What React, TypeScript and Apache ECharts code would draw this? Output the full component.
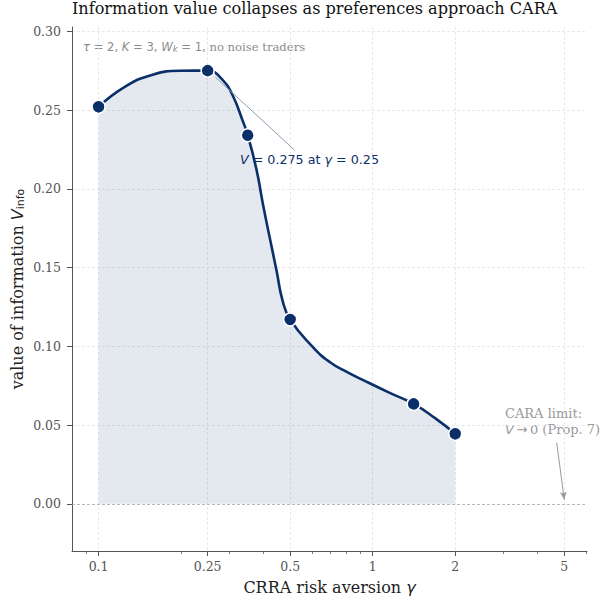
import React, { useEffect, useRef } from "react";
import * as echarts from "echarts";

// curve (gamma, V)
const gammaCurve = [0.1, 0.1255, 0.1575, 0.1977, 0.25, 0.284, 0.308, 0.335, 0.35, 0.377, 0.397, 0.421, 0.446, 0.469, 0.5, 0.604, 0.697, 0.804, 0.951, 1.154, 1.41, 1.684, 2.0];
const vCurve = [0.252, 0.265, 0.2724, 0.2749, 0.275, 0.269, 0.2595, 0.2435, 0.234, 0.212, 0.191, 0.169, 0.148, 0.129, 0.117, 0.0996, 0.09, 0.0837, 0.0774, 0.0704, 0.0634, 0.0545, 0.0444];
// highlighted points
const gammaMarkers = [0.1, 0.25, 0.35, 0.5, 1.41, 2.0];
const vMarkers = [0.252, 0.275, 0.234, 0.117, 0.0634, 0.0444];
// ticks
const xMajorTicks = [0.1, 0.25, 0.5, 1, 2, 5];
const xMinorTicks = [0.09, 0.2, 0.3, 0.4, 0.6, 0.7, 0.8, 0.9, 3, 4, 6];
const yTicks = [0, 0.05, 0.1, 0.15, 0.2, 0.25, 0.3];
// annotation anchors (data coords)
const peakArrow = [[0.267, 0.2708], [0.519, 0.2245]];
const caraArrow = [[4.69, 0.0387], [5, 0.0025]];

const NAVY = "#0b3069";
const SERIF = "DejaVu Serif";
const SANS = "DejaVu Sans";

export default function App() {
  const ref = useRef<HTMLDivElement>(null);
  useEffect(() => {
    const chart = echarts.init(ref.current!, null, { renderer: "svg" });
    const fmt = (v: number) => String(parseFloat(Number(v).toPrecision(3)));
    const option: any = {
      animation: false,
      backgroundColor: "#ffffff",
      title: {
        text: "Information value collapses as preferences approach CARA",
        left: 72,
        top: 0,
        padding: 0,
        textStyle: { fontFamily: SERIF, fontSize: 16.1, fontWeight: "normal", color: "#111" },
      },
      grid: { left: 72, right: 16, top: 27, bottom: 51, containLabel: false, outerBoundsMode: "none" },
      xAxis: [
        {
          type: "log",
          logBase: 10,
          min: 0.08,
          max: 6.05,
          name: "CRRA risk aversion {i|γ}",
          nameLocation: "middle",
          nameGap: 28,
          nameMoveOverlap: false,
          nameTextStyle: {
            fontFamily: SERIF,
            fontSize: 16,
            color: "#222",
            rich: { i: { fontFamily: SANS, fontStyle: "italic", fontSize: 16, color: "#222" } },
          },
          axisLine: { show: true, onZero: false, lineStyle: { color: "#555", width: 1 } },
          axisTick: { show: true, customValues: xMajorTicks, length: 5, lineStyle: { color: "#555" } },
          axisLabel: {
            customValues: xMajorTicks,
            formatter: fmt,
            fontFamily: SERIF,
            fontSize: 12.5,
            color: "#555",
            margin: 9,
          },
          splitLine: { show: true, lineStyle: { color: "#e3e3e3", type: [3, 2], width: 0.8 } },
          minorTick: { show: false },
        },
        {
          type: "log",
          logBase: 10,
          min: 0.08,
          max: 6.05,
          gridIndex: 0,
          position: "bottom",
          axisLine: { show: false, onZero: false },
          axisTick: { show: true, customValues: xMinorTicks, length: 3, lineStyle: { color: "#555", width: 0.8 } },
          axisLabel: { show: false },
          splitLine: { show: false },
        },
      ],
      yAxis: {
        type: "value",
        min: -0.03,
        max: 0.3027,
        name: "value of information {i|V}{sub|info}",
        nameLocation: "middle",
        nameGap: 46,
        nameMoveOverlap: false,
        nameTextStyle: {
          fontFamily: SERIF,
          fontSize: 16,
          color: "#222",
          rich: {
            i: { fontFamily: SANS, fontStyle: "italic", fontSize: 16, color: "#222" },
            sub: { fontFamily: SANS, fontSize: 11, color: "#222", verticalAlign: "bottom", padding: [6, 0, 0, 0] },
          },
        },
        axisLine: { show: true, lineStyle: { color: "#555", width: 1 } },
        axisTick: { show: true, customValues: yTicks, length: 5, lineStyle: { color: "#555" } },
        axisLabel: {
          customValues: yTicks,
          formatter: (v: number) => Number(v).toFixed(2),
          fontFamily: SERIF,
          fontSize: 12.5,
          color: "#555",
          margin: 11,
        },
        splitLine: { show: true, lineStyle: { color: "#e3e3e3", type: [3, 2], width: 0.8 } },
      },
      series: [
        {
          type: "line",
          name: "curve",
          xAxisIndex: 0,
          data: gammaCurve.map((g, i) => [g, vCurve[i]]),
          smooth: 0.5,
          showSymbol: false,
          symbol: "none",
          lineStyle: { color: NAVY, width: 2.6 },
          areaStyle: { color: NAVY, opacity: 0.11 },
          z: 3,
          markLine: {
            silent: true,
            symbol: ["none", "none"],
            label: { show: false },
            data: [
              { yAxis: 0, lineStyle: { color: "#aaa", type: [3, 2], width: 0.8 } },
              [
                { coord: peakArrow[0], symbol: "none", lineStyle: { color: "#8d9db5", width: 1, type: "solid" } },
                { coord: peakArrow[1], symbol: "none" },
              ],
              [
                { coord: caraArrow[0], symbol: "none", lineStyle: { color: "#999", width: 1, type: "solid" } },
                { coord: caraArrow[1], symbol: "arrow", symbolSize: [5, 8] },
              ],
            ],
          },
        },
        {
          type: "scatter",
          name: "points",
          xAxisIndex: 0,
          data: gammaMarkers.map((g, i) => [g, vMarkers[i]]),
          symbolSize: 13,
          itemStyle: { color: NAVY, opacity: 1, borderColor: "#fff", borderWidth: 1.5 },
          z: 4,
        },
      ],
      graphic: [
        {
          type: "text",
          left: 83,
          top: 41,
          style: {
            text: "{i|τ} {s|= 2,} {i|K} {s|= 3,} {i|W}{sub|k} {s|= 1,} no noise traders",
            fontFamily: SERIF,
            fontSize: 11.6,
            fill: "#8c8c8c",
            rich: {
              i: { fontFamily: SANS, fontStyle: "italic", fontSize: 11.6, fill: "#8c8c8c" },
              s: { fontFamily: SANS, fontSize: 11.6, fill: "#8c8c8c" },
              sub: { fontFamily: SANS, fontStyle: "italic", fontSize: 8.5, fill: "#8c8c8c", verticalAlign: "bottom", padding: [4, 0, 0, 0] },
            },
          },
        },
        {
          type: "text",
          left: 240,
          top: 153,
          style: {
            text: "{i|V} = 0.275 at {i|γ} = 0.25",
            fontFamily: SANS,
            fontSize: 12.7,
            fill: NAVY,
            rich: { i: { fontFamily: SANS, fontStyle: "italic", fontSize: 12.7, fill: NAVY } },
          },
        },
        {
          type: "text",
          left: 505,
          top: 405,
          style: {
            text: "CARA limit:\n{i|V}{s|\u2009→\u20090} (Prop. 7)",
            fontFamily: SERIF,
            fontSize: 13,
            lineHeight: 16,
            fill: "#999",
            rich: {
              i: { fontFamily: SANS, fontStyle: "italic", fontSize: 13, fill: "#999", lineHeight: 16 },
              s: { fontFamily: SANS, fontSize: 13, fill: "#999", lineHeight: 16 },
            },
          },
        },
      ],
    };
    chart.setOption(option);
    return () => chart.dispose();
  }, []);
  return <div ref={ref} style={{ position: "absolute", left: 0, top: 0, width: 603, height: 602 }} />;
}
